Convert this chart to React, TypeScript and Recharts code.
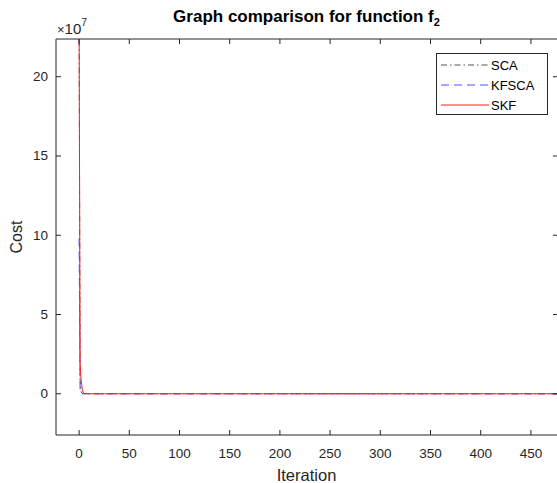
import React from 'react';
import { LineChart, Line, XAxis, YAxis, Legend } from 'recharts';

// Cost values in units of 1e7
const iterations = [0, 1, 2, 3, 4, 5, 6, 8, 10, 20, 50, 100, 200, 300, 400, 500];
const scaCost = [24.0, 0.9, 0.12, 0.03, 0.012, 0.006, 0.004, 0.002, 0.0015, 0.001, 0.0006, 0.0004, 0.0002, 0.0001, 0.0001, 0.0001];
const kfscaCost = [9.8, 0.3, 0.03, 0.012, 0.006, 0.004, 0.003, 0.002, 0.0015, 0.001, 0.0006, 0.0004, 0.0002, 0.0001, 0.0001, 0.0001];
const skfCost = [24.0, 1.8, 0.9, 0.35, 0.08, 0.02, 0.008, 0.004, 0.002, 0.001, 0.0006, 0.0004, 0.0002, 0.0001, 0.0001, 0.0001];

const xTicks = [0, 50, 100, 150, 200, 250, 300, 350, 400, 450];
const yTicks = [0, 5, 10, 15, 20];
const xDomain = [-23, 477];
const yDomain = [-2.6, 22.38];

const seriesNames = ['SCA', 'KFSCA', 'SKF'];
const seriesColors = ['#555555', '#5050ff', '#ff2020'];
const seriesDash = ['6 3 1.5 3', '8 5', undefined];

const data = iterations.map((it, i) => ({
  iteration: it,
  SCA: scaCost[i],
  KFSCA: kfscaCost[i],
  SKF: skfCost[i],
}));

const W = 560;
const H = 483;
const plotLeft = 56;
const plotRight = 558;
const plotTop = 39;
const plotBottom = 435;
const M = { top: plotTop - 1, right: W - plotRight, bottom: 0, left: 0 };
const AX = '#262626';
const FONT = '"Liberation Sans", Arial, Helvetica, sans-serif';

const YTick = (props: any) => {
  const { y, payload } = props;
  return (
    <g>
      <line x1={plotLeft} x2={plotLeft + 5} y1={y} y2={y} stroke={AX} />
      <line x1={plotRight - 5} x2={plotRight} y1={y} y2={y} stroke={AX} />
      <text x={plotLeft - 8} y={y} textAnchor="end" dominantBaseline="central" fontSize={13.5} fontFamily={FONT} fill={AX}>
        {payload.value}
      </text>
    </g>
  );
};

const XTick = (props: any) => {
  const { x, payload } = props;
  return (
    <g>
      <line x1={x} x2={x} y1={plotBottom} y2={plotBottom - 5} stroke={AX} />
      <line x1={x} x2={x} y1={plotTop} y2={plotTop + 5} stroke={AX} />
      <text x={x} y={453} textAnchor="middle" dominantBaseline="central" fontSize={13.5} fontFamily={FONT} fill={AX}>
        {payload.value}
      </text>
    </g>
  );
};

const LegendBox = () => (
  <div
    style={{
      width: 110,
      height: 60,
      border: '1px solid #262626',
      background: '#fff',
      boxSizing: 'content-box',
    }}
  >
    <svg width={110} height={60} style={{ display: 'block' }}>
      {seriesNames.map((name, i) => (
        <g key={name}>
          <line
            x1={4}
            x2={52}
            y1={11 + i * 20}
            y2={11 + i * 20}
            stroke={seriesColors[i]}
            strokeDasharray={seriesDash[i]}
          />
          <text x={54} y={11 + i * 20} dominantBaseline="central" fontSize={13} fontFamily={FONT} fill="#000">
            {name}
          </text>
        </g>
      ))}
    </svg>
  </div>
);

export default function App() {
  return (
    <div
      style={{
        position: 'fixed',
        left: 0,
        top: 0,
        width: 557,
        height: 483,
        overflow: 'hidden',
        background: '#fff',
      }}
    >
      <LineChart width={W} height={H} data={data} margin={M}>
        <XAxis
          dataKey="iteration"
          type="number"
          domain={xDomain}
          ticks={xTicks}
          allowDataOverflow
          height={H - plotBottom}
          tickLine={false}
          axisLine={{ stroke: AX }}
          tick={<XTick />}
          interval={0}
        />
        <XAxis
          xAxisId="top"
          orientation="top"
          dataKey="iteration"
          type="number"
          domain={xDomain}
          ticks={xTicks}
          allowDataOverflow
          height={1}
          tickLine={false}
          tick={false}
          axisLine={{ stroke: AX }}
        />
        <YAxis
          type="number"
          domain={yDomain}
          ticks={yTicks}
          allowDataOverflow
          width={plotLeft}
          tickLine={false}
          axisLine={{ stroke: AX }}
          tick={<YTick />}
          interval={0}
        />
        {seriesNames.map((name, i) => (
          <Line
            key={name}
            dataKey={name}
            type="linear"
            stroke={seriesColors[i]}
            strokeDasharray={seriesDash[i]}
            strokeWidth={1}
            dot={false}
            activeDot={false}
            isAnimationActive={false}
          />
        ))}
        <Legend
          layout="vertical"
          align="center"
          verticalAlign="middle"
          wrapperStyle={{ position: 'absolute', left: 436, top: 53, width: 112, height: 62 }}
          content={() => <LegendBox />}
        />
      </LineChart>
      <svg
        width={557}
        height={483}
        style={{ position: 'absolute', left: 0, top: 0, pointerEvents: 'none' }}
      >
        <text x={(plotLeft + 557) / 2} y={22} textAnchor="middle" fontSize={17} fontWeight="bold" fontFamily={FONT} fill="#000">
          Graph comparison for function f
          <tspan fontSize={11} dy={4}>2</tspan>
        </text>
        <text x={57} y={34} fontSize={15} fontFamily={FONT} fill={AX}>
          <tspan fontSize={13}>×</tspan>10
          <tspan fontSize={10.5} dy={-8}>7</tspan>
        </text>
        <text
          x={0}
          y={0}
          transform={`translate(22, ${(plotTop + plotBottom) / 2}) rotate(-90)`}
          textAnchor="middle"
          fontSize={16}
          fontFamily={FONT}
          fill={AX}
        >
          Cost
        </text>
        <text x={(plotLeft + 557) / 2} y={481} textAnchor="middle" fontSize={16.5} fontFamily={FONT} fill={AX}>
          Iteration
        </text>
      </svg>
    </div>
  );
}
